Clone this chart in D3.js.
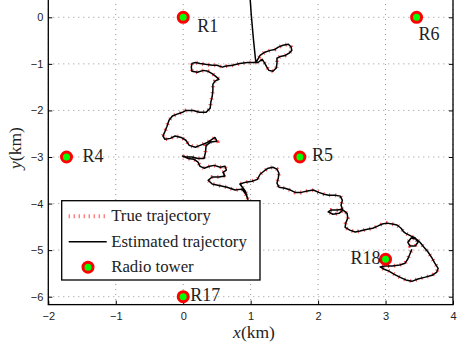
<!DOCTYPE html>
<html>
<head>
<meta charset="utf-8">
<script src="https://cdn.jsdelivr.net/npm/d3@7"></script>
<style>
  body { margin: 0; background: #fff; }
  svg { display: block; }
  .tick text { font-family: "Liberation Sans", Arial, sans-serif; font-size: 11px; fill: #222; }
  .serif { font-family: "Liberation Serif", "Times New Roman", serif; fill: #222; }
</style>
</head>
<body>
<svg id="chart" width="459" height="349"></svg>
<script>
// axis ticks (km)
var xTicks = [-2, -1, 0, 1, 2, 3, 4];
var yTicks = [-6, -5, -4, -3, -2, -1, 0];

// radio towers, [x, y] in km
var towerNames = ['R1', 'R6', 'R4', 'R5', 'R17', 'R18'];
var towerPos = [[0, 0], [3.46, 0], [-1.73, -3], [1.73, -3], [0, -6], [3, -5.196]];

// true trajectory, [x, y] in km
var truePath = [
	[1.08,-0.97],[1.14,-0.82],[1.21,-0.75],[1.29,-0.71],[1.36,-0.69],[1.41,-0.64],[1.48,-0.60],[1.56,-0.58],
	[1.60,-0.64],[1.61,-0.71],[1.57,-0.77],[1.51,-0.82],[1.44,-0.84],[1.39,-0.88],[1.39,-0.99],[1.38,-1.09],
	[1.33,-1.16],[1.27,-1.14],[1.24,-1.07],[1.21,-0.99],[1.17,-0.90],[1.11,-0.97],[1.04,-0.97],[0.95,-0.97],
	[0.84,-0.99],[0.73,-1.03],[0.62,-1.05],[0.58,-1.07],[0.50,-1.03],[0.43,-1.03],[0.33,-1.01],[0.25,-0.99],
	[0.18,-0.97],[0.13,-0.99],[0.12,-1.07],[0.13,-1.16],[0.21,-1.18],[0.30,-1.14],[0.37,-1.16],[0.44,-1.22],
	[0.50,-1.29],[0.53,-1.33],[0.47,-1.37],[0.44,-1.44],[0.44,-1.57],[0.43,-1.70],[0.41,-1.82],[0.40,-1.95],
	[0.34,-2.04],[0.24,-2.04],[0.15,-2.00],[0.04,-2.00],[-0.01,-2.04],[-0.09,-2.08],[-0.16,-2.12],[-0.21,-2.21],
	[-0.24,-2.34],[-0.27,-2.45],[-0.30,-2.55],[-0.27,-2.62],[-0.19,-2.60],[-0.12,-2.55],[-0.03,-2.58],[0.04,-2.64],
	[0.09,-2.75],[0.18,-2.79],[0.25,-2.75],[0.34,-2.70],[0.41,-2.64],[0.47,-2.58],[0.50,-2.66],[0.41,-2.68],
	[0.34,-2.75],[0.33,-2.90],[0.31,-3.03],[0.22,-3.03],[0.13,-3.00],[0.04,-3.00],[-0.01,-2.98],[0.07,-3.03],
	[0.16,-3.05],[0.22,-3.11],[0.25,-3.20],[0.31,-3.24],[0.39,-3.20],[0.46,-3.18],[0.55,-3.22],[0.62,-3.20],
	[0.64,-3.28],[0.59,-3.33],[0.62,-3.41],[0.53,-3.43],[0.43,-3.43],[0.37,-3.50],[0.43,-3.58],[0.53,-3.61],
	[0.65,-3.65],[0.77,-3.71],[0.87,-3.69],[0.93,-3.80],[0.96,-3.91],[0.92,-3.73],[0.84,-3.58],[0.93,-3.54],
	[1.02,-3.52],[1.10,-3.48],[1.14,-3.37],[1.20,-3.30],[1.26,-3.24],[1.33,-3.22],[1.39,-3.26],[1.42,-3.35],
	[1.41,-3.45],[1.39,-3.56],[1.42,-3.65],[1.51,-3.67],[1.59,-3.71],[1.66,-3.76],[1.75,-3.76],[1.84,-3.73],
	[1.93,-3.71],[2.01,-3.76],[2.09,-3.80],[2.16,-3.82],[2.25,-3.82],[2.33,-3.84],[2.36,-3.93],[2.34,-4.03],
	[2.36,-4.12],[2.28,-4.14],[2.19,-4.14],[2.15,-4.18],[2.22,-4.23],[2.31,-4.21],[2.37,-4.14],[2.43,-4.21],
	[2.44,-4.31],[2.41,-4.42],[2.40,-4.51],[2.47,-4.57],[2.55,-4.61],[2.62,-4.59],[2.73,-4.55],[2.81,-4.53],
	[2.89,-4.48],[2.95,-4.44],[3.02,-4.42],[3.10,-4.44],[3.17,-4.46],[3.23,-4.53],[3.27,-4.61],[3.30,-4.64],
	[3.38,-4.70],[3.44,-4.74],[3.48,-4.83],[3.44,-4.91],[3.36,-4.91],[3.33,-4.83],[3.38,-4.74],[3.45,-4.76],
	[3.51,-4.83],[3.57,-4.94],[3.63,-5.04],[3.69,-5.17],[3.73,-5.28],[3.78,-5.39],[3.76,-5.47],[3.69,-5.54],
	[3.59,-5.58],[3.48,-5.62],[3.39,-5.67],[3.30,-5.64],[3.21,-5.58],[3.13,-5.52],[3.05,-5.45],[2.98,-5.41],
	[2.92,-5.36],[2.99,-5.34],[3.10,-5.34],[3.21,-5.32],[3.29,-5.28],[3.33,-5.19],[3.36,-5.09],[3.39,-4.98]
];

// estimate starts from the initial guess above the plot, then locks onto the track
var estStart = [[0.99,0.45],[1.01,0.04],[1.04,-0.45],[1.07,-0.88]];

var legendItems = ['True trajectory', 'Estimated trajectory', 'Radio tower'];

// label placement next to each tower (px)
var labelOffset = {
	R1: [14, 15, 'start'], R6: [2, 23, 'start'], R4: [16, 5, 'start'],
	R5: [12, 4, 'start'], R17: [7, 4, 'start'], R18: [-5, 5, 'end']
};

var svg = d3.select('#chart');

var x = d3.scaleLinear().domain([-2, 4]).range([48.3, 453]);
var y = d3.scaleLinear().domain([-6, 0]).range([296.7, 17.3]);
var yLow = -6.17, yHigh = 0.5;
var fmt = d3.format('d');

var box = {x0: x(-2), x1: x(4), y0: y(yHigh), y1: y(yLow)};

// grid
var grid = svg.append('g').attr('class', 'grid')
	.attr('stroke', '#777').attr('stroke-width', 0.8).attr('stroke-dasharray', '1,4');
grid.selectAll('line.gx').data(xTicks).enter().append('line')
	.attr('x1', function (d) {return x(d);}).attr('x2', function (d) {return x(d);})
	.attr('y1', box.y0).attr('y2', box.y1);
grid.selectAll('line.gy').data(yTicks).enter().append('line')
	.attr('y1', function (d) {return y(d);}).attr('y2', function (d) {return y(d);})
	.attr('x1', box.x0).attr('x2', box.x1);

// axes, ticks pointing inward
svg.append('g').attr('transform', 'translate(' + box.x0 + ',0)')
	.call(d3.axisLeft(y).tickValues(yTicks).tickFormat(fmt).tickSizeInner(-4).tickSizeOuter(0).tickPadding(5));
svg.append('g').attr('transform', 'translate(0,' + box.y1 + ')')
	.call(d3.axisBottom(x).tickValues(xTicks).tickFormat(fmt).tickSizeInner(-4).tickSizeOuter(0).tickPadding(8));
svg.append('g').attr('transform', 'translate(' + box.x1 + ',0)')
	.call(d3.axisRight(y).tickValues(yTicks).tickSizeInner(-4).tickSizeOuter(0).tickFormat(''));
svg.selectAll('.domain').remove();
svg.selectAll('.tick line').attr('stroke', '#000');

svg.append('rect')
	.attr('x', box.x0).attr('y', box.y0)
	.attr('width', box.x1 - box.x0).attr('height', box.y1 - box.y0)
	.attr('fill', 'none').attr('stroke', '#000').attr('stroke-width', 1.3);

// trajectories
var line = d3.line().x(function (d) {return x(d[0]);}).y(function (d) {return y(d[1]);});

svg.append('path').datum(truePath)
	.attr('d', line).attr('fill', 'none')
	.attr('stroke', '#ff2020').attr('stroke-width', 4).attr('stroke-dasharray', '1,5')
	.attr('stroke-opacity', 0.8);
svg.append('path').datum(estStart.concat(truePath))
	.attr('d', line).attr('fill', 'none')
	.attr('stroke', '#000').attr('stroke-width', 1.5).attr('stroke-linejoin', 'round');

// towers
var towers = svg.append('g').selectAll('g.tower').data(towerNames).enter().append('g')
	.attr('class', 'tower')
	.attr('transform', function (d, i) {return 'translate(' + x(towerPos[i][0]) + ',' + y(towerPos[i][1]) + ')';});
towers.append('circle').attr('r', 5)
	.attr('fill', '#00ff00').attr('stroke', '#ff0000').attr('stroke-width', 3);
towers.append('text').attr('class', 'serif')
	.attr('x', function (d) {return labelOffset[d][0];})
	.attr('y', function (d) {return labelOffset[d][1];})
	.attr('text-anchor', function (d) {return labelOffset[d][2];})
	.attr('font-size', 18)
	.text(function (d) {return d;});

// legend
var lg = svg.append('g').attr('transform', 'translate(61.7,200.7)');
lg.append('rect').attr('width', 198.3).attr('height', 79.3)
	.attr('fill', '#fff').attr('stroke', '#000').attr('stroke-width', 1.3);
var rows = lg.selectAll('g.row').data(legendItems).enter().append('g')
	.attr('class', 'row')
	.attr('transform', function (d, i) {return 'translate(0,' + (15.5 + i * 25.5) + ')';});
rows.append('text').attr('class', 'serif')
	.attr('x', 49.5).attr('y', 5).attr('font-size', 16.8)
	.text(function (d) {return d;});
rows.filter(function (d, i) {return i === 0;}).append('line')
	.attr('x1', 7).attr('x2', 44).attr('stroke', '#ff2020')
	.attr('stroke-width', 4).attr('stroke-dasharray', '1,4').attr('stroke-opacity', 0.8);
rows.filter(function (d, i) {return i === 1;}).append('line')
	.attr('x1', 7).attr('x2', 45).attr('stroke', '#000').attr('stroke-width', 1.5);
rows.filter(function (d, i) {return i === 2;}).append('circle')
	.attr('cx', 26.3).attr('r', 5)
	.attr('fill', '#00ff00').attr('stroke', '#ff0000').attr('stroke-width', 3);

// axis titles
var xt = svg.append('text').attr('class', 'serif')
	.attr('x', 254).attr('y', 337.5).attr('text-anchor', 'middle').attr('font-size', 17.5);
xt.append('tspan').attr('font-style', 'italic').text('x');
xt.append('tspan').text('(km)');
var yt = svg.append('text').attr('class', 'serif')
	.attr('transform', 'translate(20.5,148) rotate(-90)').attr('text-anchor', 'middle').attr('font-size', 17.5);
yt.append('tspan').attr('font-style', 'italic').text('y');
yt.append('tspan').text('(km)');
</script>
</body>
</html>
